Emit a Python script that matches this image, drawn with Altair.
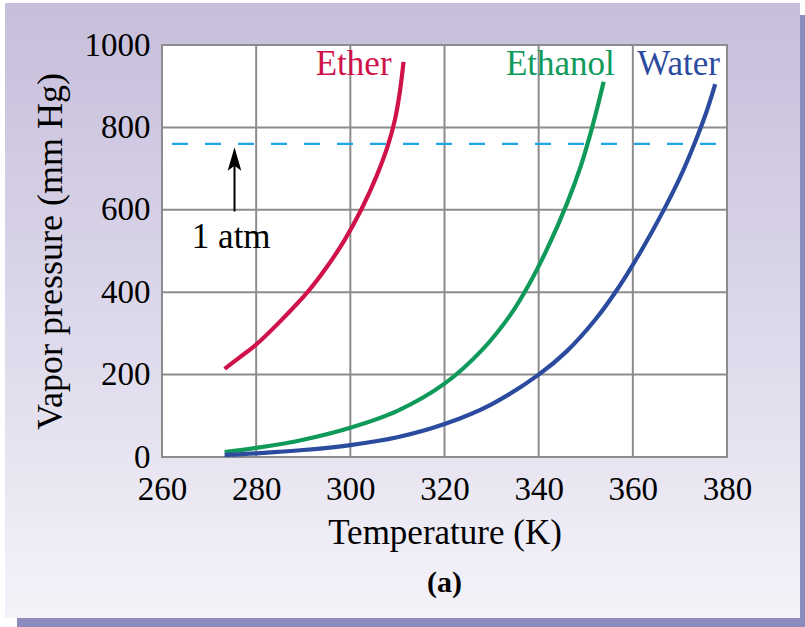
import altair as alt
import pandas as pd

# ---------------- data ----------------
x_ticks = [260, 280, 300, 320, 340, 360, 380]
y_ticks = [0, 200, 400, 600, 800, 1000]

ether_T = [273.3, 276.5, 280, 285, 290.9, 295, 298.8, 302.3, 305.5, 308, 309.5, 310.5, 311.3]
ether_P = [214, 242, 273, 328, 400, 461, 527, 600, 680, 757, 820, 885, 959]

ethanol_T = [273.3, 280, 290, 300, 310, 320, 328, 334, 338, 342, 346, 349, 351, 352.5, 353.8]
ethanol_P = [12, 22, 42, 71, 112, 178, 260, 345, 420, 510, 615, 708, 785, 850, 911]

water_T = [273.3, 280, 290, 300, 310, 320, 330, 340, 346, 352, 357, 362, 366.5, 370, 373, 375.5, 377.5]
water_P = [5, 9, 17, 29, 48, 80, 128, 200, 257, 333, 412, 505, 598, 678, 758, 833, 905]

names = ["Ether", "Ethanol", "Water"]
colors = ["#d0124a", "#0f9a5a", "#2b4b9f"]
label_T = [300.7, 344.6, 369.7]
label_P = [927, 927, 927]

atm_P = 760
arrow_T = 275.4
arrow_tail_P = 596
arrow_head_P = 722
arrow_tip_P = 752
note_T = 274.7
note_P = 507
note_text = "1 atm"

# ---------------- layout ----------------
FONT = "Liberation Serif"
W, H = 565, 412
PAD = {"left": 162, "top": 45, "right": 805 - 162 - W, "bottom": 627 - 45 - H}

xs = alt.Scale(domain=[260, 380], nice=False, zero=False)
ys = alt.Scale(domain=[0, 1000], nice=False, zero=False)

xaxis = alt.Axis(values=x_ticks, format="d", grid=False, domain=False, ticks=False, tickSize=0,
                 labelFont=FONT, labelFontSize=33, labelColor="#000", labelPadding=16,
                 labelFlush=False, labelOverlap=False,
                 title="Temperature (K)", titleFont=FONT, titleFontSize=35,
                 titleFontWeight="normal", titleColor="#000", titleX=W / 2, titleY=86,
                 titleBaseline="alphabetic", titleAlign="center", zindex=1)
yaxis = alt.Axis(values=y_ticks, format="d", grid=False, domain=False, ticks=False, tickSize=0,
                 labelFont=FONT, labelFontSize=33, labelColor="#000", labelPadding=12,
                 labelFlush=False, labelOverlap=False,
                 title="Vapor pressure (mm Hg)", titleFont=FONT, titleFontSize=36,
                 titleFontWeight="normal", titleColor="#000", titleX=-112, titleY=H / 2,
                 titleAngle=270, titleBaseline="middle", titleAlign="center", zindex=1)


def X():
    return alt.X("T:Q", scale=xs, axis=xaxis)


def Y():
    return alt.Y("P:Q", scale=ys, axis=yaxis)


one = pd.DataFrame({"k": [0]})

shadow = alt.Chart(one).mark_rect(color="#8b8bbd").encode(
    x=alt.value(-145), x2=alt.value(643), y=alt.value(-30), y2=alt.value(582))

panel = alt.Chart(one).mark_rect(
    color=alt.Gradient(gradient="linear",
                       stops=[alt.GradientStop(offset=0, color="#c7bedb"),
                              alt.GradientStop(offset=0.5, color="#dcd7ea"),
                              alt.GradientStop(offset=1, color="#f4f3f9")],
                       x1=0, x2=0, y1=0, y2=1)
).encode(x=alt.value(-157), x2=alt.value(638), y=alt.value(-42), y2=alt.value(573))

plotbg = alt.Chart(one).mark_rect(color="white").encode(
    x=alt.value(0), x2=alt.value(W), y=alt.value(0), y2=alt.value(H))

vgrid = alt.Chart(pd.DataFrame({"T": x_ticks})).mark_rule(
    color="#8c8c8c", strokeWidth=2, strokeCap="square"
).encode(x=X(), y=alt.value(0), y2=alt.value(H))

hgrid = alt.Chart(pd.DataFrame({"P": y_ticks})).mark_rule(
    color="#8c8c8c", strokeWidth=2, strokeCap="square"
).encode(y=Y(), x=alt.value(0), x2=alt.value(W))

atm = alt.Chart(pd.DataFrame({"P": [atm_P]})).mark_rule(
    color="#1ea4e8", strokeWidth=2.2, strokeDash=[16, 17], strokeDashOffset=23
).encode(y=Y(), x=alt.value(0), x2=alt.value(W))

rows = []
for nm, TT, PP in [("Ether", ether_T, ether_P), ("Ethanol", ethanol_T, ethanol_P),
                   ("Water", water_T, water_P)]:
    for t, p in zip(TT, PP):
        rows.append({"name": nm, "T": t, "P": p})
curves_df = pd.DataFrame(rows)

cscale = alt.Scale(domain=names, range=colors)

curves = alt.Chart(curves_df).mark_line(
    strokeWidth=4.2, interpolate="catmull-rom", strokeCap="butt"
).encode(x=X(), y=Y(), color=alt.Color("name:N", scale=cscale, legend=None))

labels = alt.Chart(pd.DataFrame({"name": names, "T": label_T, "P": label_P})).mark_text(
    font=FONT, fontSize=35, baseline="alphabetic", align="center"
).encode(x=X(), y=Y(), text="name:N", color=alt.Color("name:N", scale=cscale, legend=None))

shaft = alt.Chart(pd.DataFrame({"T": [arrow_T], "P": [arrow_tail_P], "P2": [arrow_head_P]})).mark_rule(
    color="black", strokeWidth=2
).encode(x=X(), y=Y(), y2="P2:Q")

head = alt.Chart(pd.DataFrame({"T": [arrow_T], "P": [arrow_tip_P]})).mark_point(
    shape="M0,0 L0.42,1.45 L0,1.15 L-0.42,1.45 Z", size=1050, filled=True,
    color="black", opacity=1, strokeWidth=0
).encode(x=X(), y=Y())

note = alt.Chart(pd.DataFrame({"T": [note_T], "P": [note_P], "txt": [note_text]})).mark_text(
    font=FONT, fontSize=35, baseline="alphabetic", align="center", color="black"
).encode(x=X(), y=Y(), text="txt:N")

chart = alt.layer(
    shadow, panel, plotbg, vgrid, hgrid, atm, curves, labels, shaft, head, note
).properties(
    width=W, height=H, padding=PAD,
    autosize=alt.AutoSizeParams(type="none"),
    background="white",
    title=alt.TitleParams("(a)", orient="bottom", anchor="middle", font=FONT,
                          fontSize=30, fontWeight="bold", color="#000", offset=-59),
).configure_view(stroke=None)

chart.save("out.html", embed_options={"renderer": "svg", "actions": False})
